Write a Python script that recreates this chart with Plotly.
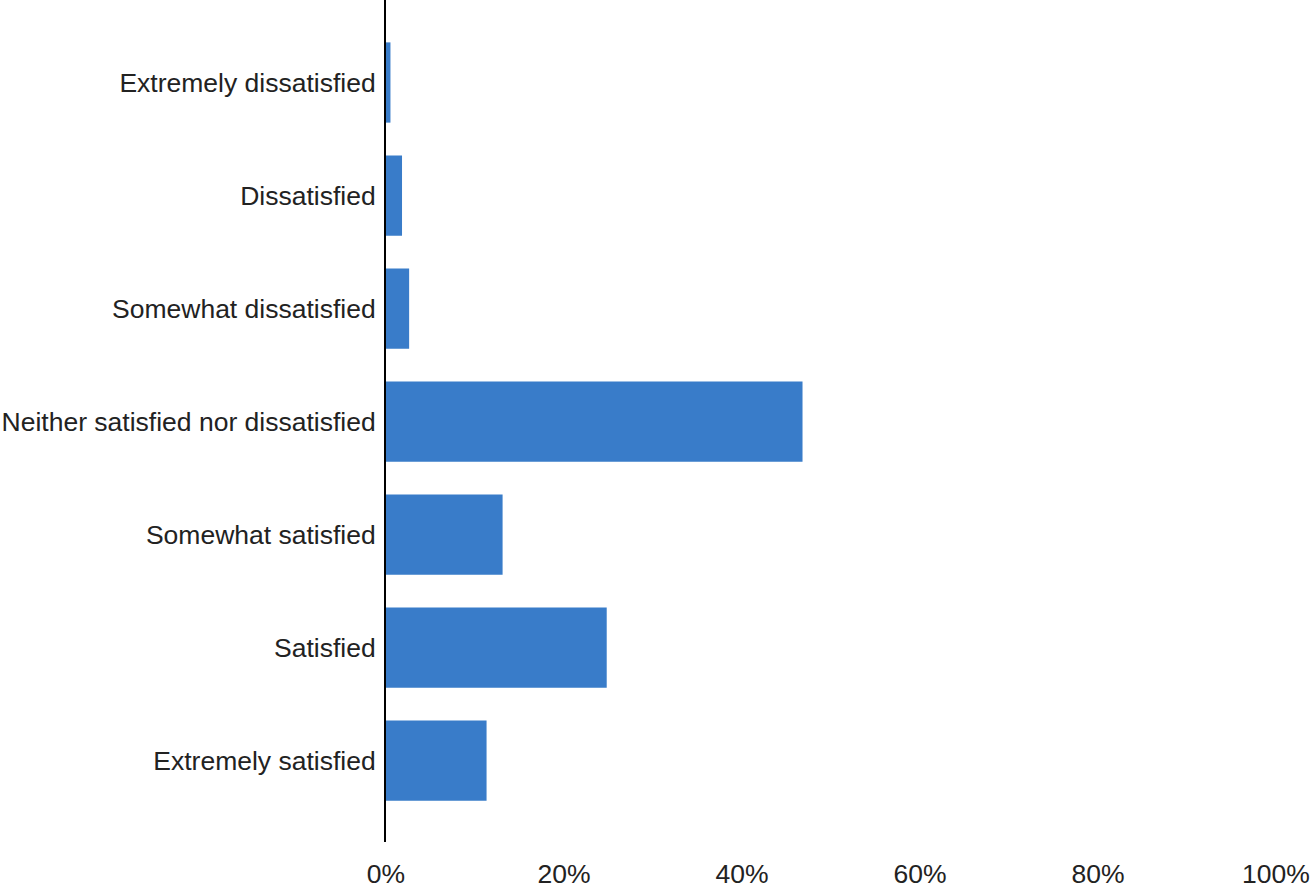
import plotly.graph_objects as go

categories = [
    "Extremely dissatisfied",
    "Dissatisfied",
    "Somewhat dissatisfied",
    "Neither satisfied nor dissatisfied",
    "Somewhat satisfied",
    "Satisfied",
    "Extremely satisfied",
]
values = [0.5, 1.8, 2.6, 46.8, 13.1, 24.8, 11.3]
x_ticks = [0, 20, 40, 60, 80, 100]
x_tick_labels = ["0%", "20%", "40%", "60%", "80%", "100%"]

fig = go.Figure(
    go.Bar(
        x=values,
        y=categories,
        orientation="h",
        marker=dict(color="#397CC9", line=dict(width=0)),
        hoverinfo="x+y",
    )
)

fig.update_layout(
    width=1315,
    height=888,
    margin=dict(l=386, r=39, t=0, b=46, autoexpand=False),
    plot_bgcolor="white",
    paper_bgcolor="white",
    bargap=0.29,
    showlegend=False,
    font=dict(family="Liberation Sans, Arial, sans-serif", size=26.5, color="#222222"),
)

fig.update_xaxes(
    range=[0, 100],
    tickvals=x_ticks,
    ticktext=x_tick_labels,
    showgrid=False,
    zeroline=False,
    showline=False,
    ticks="outside",
    ticklen=8,
    tickcolor="rgba(0,0,0,0)",
    automargin=False,
    fixedrange=True,
)

fig.update_yaxes(
    type="category",
    categoryorder="array",
    categoryarray=categories,
    range=[6.72, -0.73],
    showgrid=False,
    zeroline=False,
    showline=True,
    linecolor="#000000",
    linewidth=2,
    ticks="",
    ticklabelstandoff=3,
    automargin=False,
    fixedrange=True,
)

fig.write_html(
    "out.html",
    config={"displayModeBar": False},
    post_script="document.body.style.margin='0';document.body.style.overflow='hidden';",
)
